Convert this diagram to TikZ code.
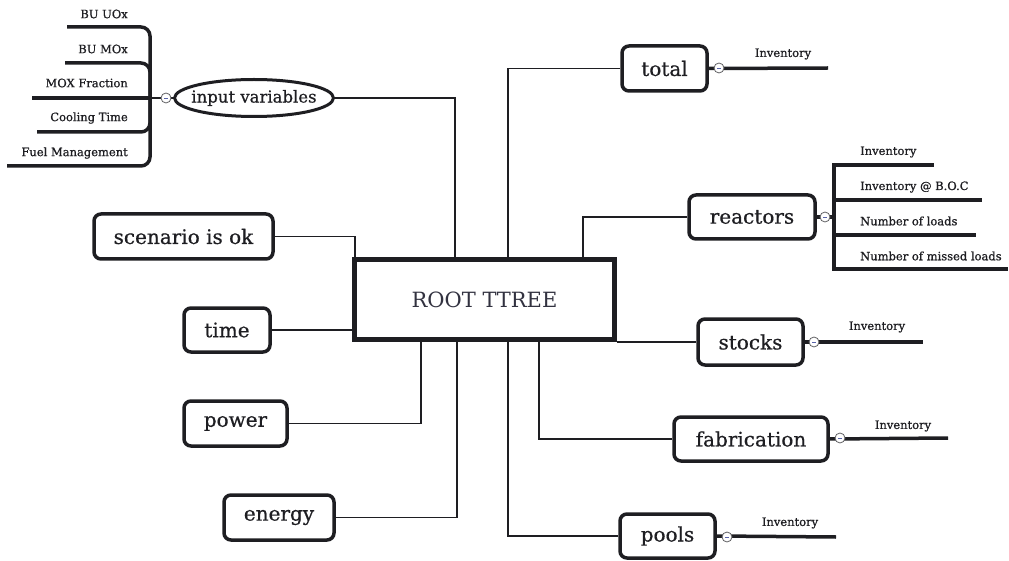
\documentclass[tikz,border=0pt]{standalone}
\usepackage{fontspec}
\setmainfont{DejaVu Serif}
\newfontfamily\boxfont{DejaVu Serif}[FakeBold=0.6]
\newfontfamily\smallfont{DejaVu Serif}[FakeBold=0.9]
\usetikzlibrary{calc,shapes.geometric}
\definecolor{ink}{RGB}{30,30,34}
\definecolor{rootink}{RGB}{50,50,64}
\definecolor{minus}{RGB}{90,100,170}
\tikzset{
  box/.style={draw=ink, line width=3.5pt, rounded corners=7pt, inner sep=0pt, text=ink, font=\boxfont\fontsize{20}{24}\selectfont},
  rootbox/.style={draw=ink, line width=5pt, inner sep=0pt, text=rootink, font=\fontsize{21}{25}\selectfont},
  conn/.style={draw=ink, line width=1.8pt},
  leaf/.style={draw=ink, line width=3.5pt},
  small/.style={text=ink, font=\smallfont\fontsize{11.5}{13}\selectfont, inner sep=0pt},
  coll/.style={circle, draw=ink!70, line width=0.8pt, fill=white, minimum size=10pt, inner sep=0pt,
    path picture={\draw[minus, line width=0.8pt] ([xshift=-2pt]path picture bounding box.center) -- ([xshift=2pt]path picture bounding box.center);}}
}
\begin{document}
\begin{tikzpicture}[x=1pt,y=-1pt]
\useasboundingbox (0,0) rectangle (1009,561);

% root
\node[rootbox, minimum width=260pt, minimum height=80pt] (root) at (484.5,299.5) {ROOT TTREE};

% left nodes
\node[draw=ink, line width=3pt, ellipse, inner xsep=-26pt, inner ysep=0pt, minimum width=159pt, minimum height=37pt, text=ink, font=\boxfont\fontsize{16.5}{20}\selectfont] (input) at (254,98) {input variables};
\node[box, minimum width=179pt, minimum height=45pt] (scen) at (183.5,236.5) {scenario is ok};
\node[box, minimum width=86pt, minimum height=44pt] (time) at (227,330) {time};
\node[box, minimum width=103pt, minimum height=45pt] (power) at (235.5,423.5) {power};
\node[box, minimum width=110pt, minimum height=45pt] (energy) at (279,517.5) {energy};

% right nodes
\node[box, minimum width=85pt, minimum height=45pt] (total) at (664.5,68.5) {total};
\node[box, minimum width=126pt, minimum height=44pt] (reactors) at (752,217) {reactors};
\node[box, minimum width=105pt, minimum height=46pt] (stocks) at (750.5,342) {stocks};
\node[box, minimum width=154pt, minimum height=44pt] (fab) at (751,439) {fabrication};
\node[box, minimum width=95pt, minimum height=44pt] (pools) at (667.5,536) {pools};

% connectors to root
\draw[conn] (input.east) -| ([xshift=103pt]root.north west);
\draw[conn] (scen.east) -| ([xshift=3pt]root.north west);
\draw[conn] (time.east) -- (time.east -| root.west);
\draw[conn] (power.east) -| ([xshift=69pt]root.south west);
\draw[conn] (energy.east) -| ([xshift=105pt]root.south west);
\draw[conn] (total.west) -| ([xshift=156pt]root.north west);
\draw[conn] (reactors.west) -| ([xshift=231pt]root.north west);
\draw[conn] (stocks.west) -- (stocks.west -| root.east);
\draw[conn] (fab.west) -| ([xshift=187pt]root.south west);
\draw[conn] (pools.west) -| ([xshift=156pt]root.south west);

% input variables subtree
\coordinate (ib) at (150,98);
\coordinate (i1) at (67,27);
\coordinate (i2) at (65,63);
\coordinate (i3) at (32,98);
\coordinate (i4) at (37,132);
\coordinate (i5) at (7,166);
\draw[conn] (input.west) -- (ib);
\draw[leaf, rounded corners=9pt] (ib) |- (i1);
\draw[leaf, rounded corners=9pt] (ib) |- (i2);
\draw[leaf] (ib) -- (i3);
\draw[leaf, rounded corners=9pt] (ib) |- (i4);
\draw[leaf, rounded corners=9pt] (ib) |- (i5);
\node[coll] (c0) at (166,98) {};
\node[small, anchor=east] at (128,14) {BU UOx};
\node[small, anchor=east] at (128,49) {BU MOx};
\node[small, anchor=east] at (128,83) {MOX Fraction};
\node[small, anchor=east] at (128,118) {Cooling Time};
\node[small, anchor=east] at (128,153) {Fuel Management};

% total subtree
\coordinate (t1) at (828,68);
\draw[leaf] (total.east) -- (t1);
\node[coll] (c1) at (719,68) {};
\node[small] at (783,54) {Inventory};

% reactors subtree
\coordinate (rb) at (834,217);
\coordinate (r1) at (934,165);
\coordinate (r2) at (982,200);
\coordinate (r3) at (976,235);
\coordinate (r4) at (1008,269);
\draw[leaf] (reactors.east) -- (rb);
\draw[leaf] (rb) |- (r1);
\draw[leaf] (rb) -- (r2 -| rb) -- (r2);
\draw[leaf] (rb) -- (r3 -| rb) -- (r3);
\draw[leaf] (rb) |- (r4);
\node[coll] (c2) at (825,217) {};
\node[small, anchor=west] at (860,152) {Inventory};
\node[small, anchor=west] at (860,187) {Inventory @ B.O.C};
\node[small, anchor=west] at (860,221) {Number of loads};
\node[small, anchor=west] at (860,256) {Number of missed loads};

% stocks subtree
\coordinate (s1) at (923,342);
\draw[leaf] (stocks.east) -- (s1);
\node[coll] (c3) at (814,342) {};
\node[small] at (877,327) {Inventory};

% fabrication subtree
\coordinate (f1) at (948,438);
\draw[leaf] (fab.east) -- (f1);
\node[coll] (c4) at (840,438) {};
\node[small] at (903,426) {Inventory};

% pools subtree
\coordinate (p1) at (836,537);
\draw[leaf] (pools.east) -- (p1);
\node[coll] (c5) at (727,537) {};
\node[small] at (790,523) {Inventory};
\end{tikzpicture}
\end{document}
